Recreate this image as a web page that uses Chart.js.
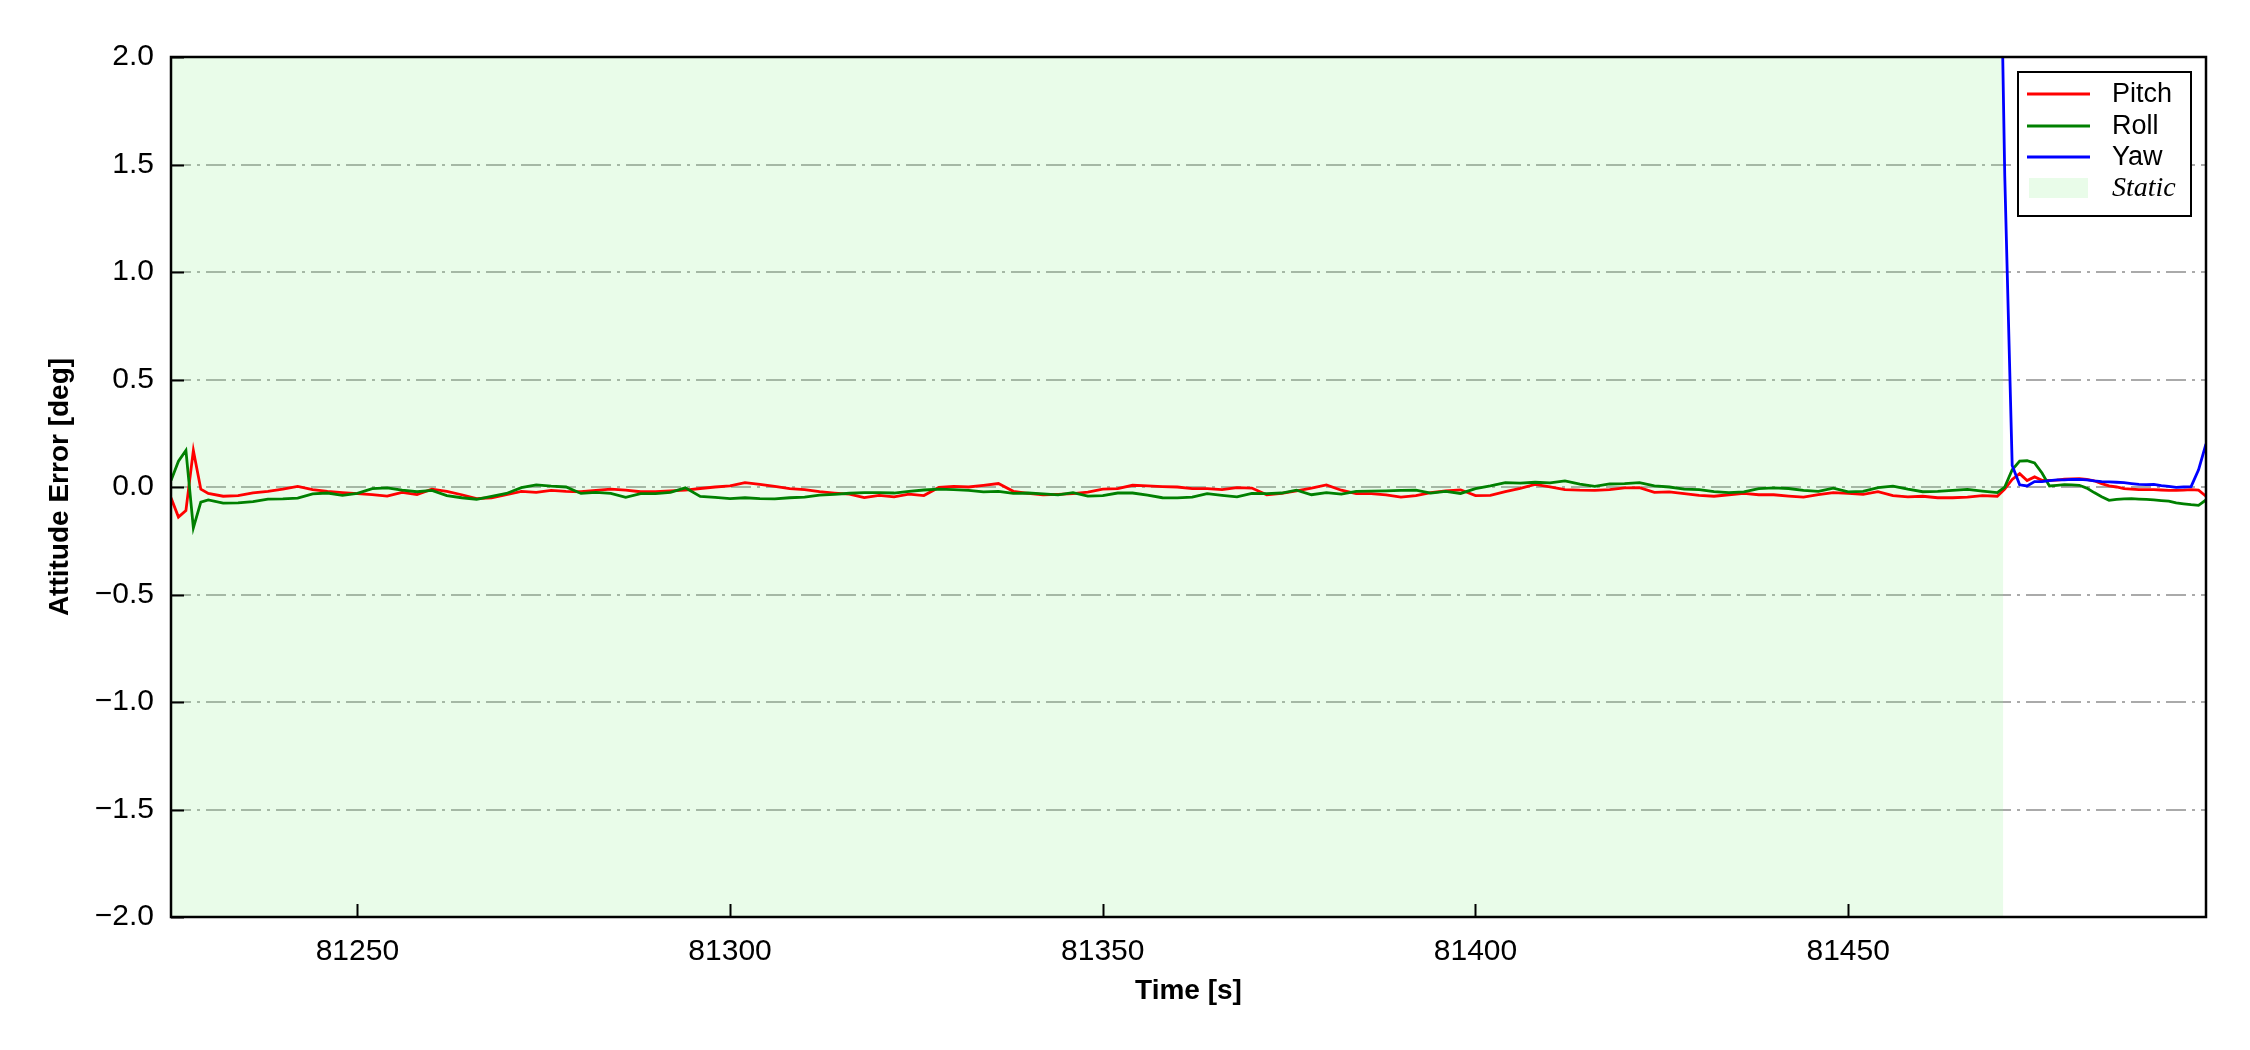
<!DOCTYPE html>
<html>
<head>
<meta charset="utf-8">
<title>Attitude Error</title>
<script src="https://cdn.jsdelivr.net/npm/chart.js"></script>
<style>
    html, body { margin: 0; padding: 0; background: #fff; }
    #wrap { position: relative; width: 2250px; height: 1050px; }
</style>
</head>
<body>
<div id="wrap"><canvas id="attitudeChart"></canvas></div>
<script>
// Time stamps [s]
const times = [
    81225, 81226, 81227, 81228, 81229, 81230,
    81232, 81234, 81236, 81238, 81240, 81242, 81244, 81246, 81248, 81250,
    81252, 81254, 81256, 81258, 81260, 81262, 81264, 81266, 81268, 81270,
    81272, 81274, 81276, 81278, 81280,
    81282, 81284, 81286, 81288, 81290, 81292, 81294, 81296, 81298, 81300,
    81302, 81304, 81306, 81308, 81310, 81312, 81314, 81316, 81318, 81320,
    81322, 81324, 81326, 81328, 81330, 81332, 81334,
    81336, 81338, 81340, 81342, 81344, 81346, 81348, 81350, 81352, 81354,
    81356, 81358, 81360, 81362, 81364, 81366, 81368, 81370, 81372, 81374,
    81376, 81378, 81380, 81382, 81384, 81386, 81388, 81390,
    81392, 81394, 81396, 81398, 81400, 81402, 81404, 81406, 81408, 81410,
    81412, 81414, 81416, 81418, 81420, 81422, 81424, 81426, 81428, 81430,
    81432, 81434, 81436, 81438, 81440, 81442, 81444,
    81446, 81448, 81450, 81452, 81454, 81456, 81458, 81460, 81462, 81464,
    81466, 81468, 81470,
    81471, 81472, 81473, 81474, 81475, 81476, 81477, 81478, 81479, 81480,
    81481, 81482, 81483, 81484, 81485, 81486, 81487, 81488, 81489, 81490,
    81491, 81492, 81493, 81494, 81495, 81496, 81497, 81498
];

// Pitch error [deg]
const pitch = [
    -0.05, -0.14, -0.11, 0.17, -0.01, -0.03,
    -0.043, -0.040, -0.027, -0.020, -0.010, 0.003, -0.012, -0.020, -0.026, -0.031,
    -0.035, -0.042, -0.025, -0.035, -0.010, -0.020, -0.036, -0.054, -0.050, -0.036,
    -0.020, -0.025, -0.016, -0.020, -0.022,
    -0.016, -0.010, -0.015, -0.022, -0.022, -0.018, -0.015, -0.007, 0.000, 0.005,
    0.020, 0.012, 0.003, -0.008, -0.012, -0.022, -0.028, -0.033, -0.049, -0.039,
    -0.046, -0.033, -0.040, -0.002, 0.003, 0.000, 0.008,
    0.016, -0.020, -0.030, -0.036, -0.034, -0.031, -0.024, -0.010, -0.008, 0.008,
    0.005, 0.002, 0.000, -0.008, -0.008, -0.012, -0.003, -0.005, -0.036, -0.030,
    -0.018, -0.005, 0.010, -0.015, -0.031, -0.031, -0.037, -0.047,
    -0.040, -0.026, -0.018, -0.013, -0.040, -0.039, -0.022, -0.006, 0.012, 0.001,
    -0.012, -0.015, -0.016, -0.012, -0.004, -0.003, -0.025, -0.023, -0.031, -0.039,
    -0.043, -0.036, -0.030, -0.036, -0.036, -0.042, -0.047,
    -0.036, -0.026, -0.030, -0.034, -0.022, -0.040, -0.046, -0.043, -0.050, -0.050,
    -0.047, -0.040, -0.043,
    -0.010, 0.035, 0.062, 0.030, 0.047, 0.031, 0.031, 0.032, 0.036, 0.038,
    0.039, 0.035, 0.029, 0.016, 0.005, 0.000, -0.008, -0.010, -0.012, -0.012,
    -0.012, -0.014, -0.016, -0.016, -0.015, -0.012, -0.015, -0.043
];

// Roll error [deg]
const roll = [
    0.03, 0.12, 0.17, -0.19, -0.07, -0.06,
    -0.075, -0.074, -0.068, -0.056, -0.055, -0.052, -0.032, -0.028, -0.039, -0.030,
    -0.008, -0.004, -0.015, -0.022, -0.016, -0.040, -0.050, -0.057, -0.044, -0.030,
    -0.003, 0.010, 0.004, 0.000, -0.030,
    -0.025, -0.030, -0.048, -0.031, -0.031, -0.025, -0.004, -0.044, -0.048, -0.054,
    -0.050, -0.054, -0.055, -0.050, -0.047, -0.038, -0.034, -0.029, -0.026, -0.026,
    -0.028, -0.020, -0.014, -0.010, -0.012, -0.016, -0.023,
    -0.020, -0.030, -0.028, -0.032, -0.037, -0.026, -0.042, -0.040, -0.028, -0.028,
    -0.038, -0.050, -0.051, -0.047, -0.031, -0.039, -0.046, -0.030, -0.031, -0.028,
    -0.015, -0.036, -0.026, -0.033, -0.020, -0.019, -0.018, -0.016,
    -0.015, -0.028, -0.020, -0.030, -0.008, 0.005, 0.020, 0.018, 0.022, 0.019,
    0.028, 0.013, 0.003, 0.014, 0.016, 0.020, 0.005, 0.000, -0.010, -0.012,
    -0.022, -0.026, -0.023, -0.008, -0.004, -0.007, -0.016,
    -0.020, -0.005, -0.023, -0.020, -0.003, 0.004, -0.010, -0.022, -0.020, -0.016,
    -0.011, -0.019, -0.026,
    0.000, 0.080, 0.120, 0.122, 0.112, 0.065, 0.005, 0.008, 0.011, 0.010,
    0.008, -0.005, -0.026, -0.045, -0.062, -0.058, -0.055, -0.054, -0.056, -0.058,
    -0.060, -0.063, -0.066, -0.074, -0.078, -0.082, -0.085, -0.060
];

// Yaw is only shown after the static phase
const yawTimes = [
    81470, 81471, 81472, 81473, 81474, 81475, 81476, 81477, 81478, 81479,
    81480, 81481, 81482, 81483, 81484, 81485, 81486, 81487, 81488, 81489,
    81490, 81491, 81492, 81493, 81494, 81495, 81496, 81497, 81498
];
const yaw = [
    3.5, 1.45, 0.10, 0.01, 0.005, 0.025, 0.025, 0.030, 0.033, 0.033,
    0.035, 0.035, 0.033, 0.028, 0.025, 0.024, 0.022, 0.020, 0.016, 0.012,
    0.011, 0.012, 0.006, 0.003, -0.002, 0.000, 0.002, 0.08, 0.20
];

// Static phase interval [s]
const staticSpan = [81225, 81470.8];

// Axis ranges and ticks
const xRange = [81225, 81498];
const xStep = 50;
const yRange = [-2, 2];
const yStep = 0.5;

const seriesNames = ['Pitch', 'Roll', 'Yaw', 'Static'];
const seriesColors = ['#ff0000', '#008000', '#0000ff', 'rgba(144, 238, 144, 0.2)'];

function toPoints(xs, ys) {
    return xs.map((x, i) => ({ x: x, y: ys[i] }));
}

// Frame, inward ticks and legend box like in the original figure
const framePlugin = {
    id: 'frame',
    afterDraw(chart) {
        const ctx = chart.ctx;
        const area = chart.chartArea;
        const xs = chart.scales.x;
        const ys = chart.scales.y;
        ctx.save();
        ctx.setLineDash([]);
        ctx.strokeStyle = '#000';
        ctx.lineWidth = 2;
        xs.ticks.forEach(t => {
            const px = Math.round(xs.getPixelForValue(t.value)) + 0.5;
            ctx.beginPath();
            ctx.moveTo(px, area.bottom);
            ctx.lineTo(px, area.bottom - 13);
            ctx.stroke();
        });
        ys.ticks.forEach(t => {
            const py = Math.round(ys.getPixelForValue(t.value)) + 0.5;
            ctx.beginPath();
            ctx.moveTo(area.left, py);
            ctx.lineTo(area.left + 13, py);
            ctx.stroke();
        });
        ctx.lineWidth = 2.5;
        ctx.strokeRect(area.left, area.top, area.right - area.left, area.bottom - area.top);

        // legend
        const bw = 173, bh = 144;
        const bx = area.right - 15 - bw;
        const by = area.top + 15;
        ctx.fillStyle = '#fff';
        ctx.fillRect(bx, by, bw, bh);
        ctx.lineWidth = 2;
        ctx.strokeRect(bx, by, bw, bh);
        const rows = [22, 54, 85, 116];
        ctx.textBaseline = 'middle';
        ctx.textAlign = 'left';
        seriesNames.forEach((name, i) => {
            const cy = by + rows[i];
            if (i < 3) {
                ctx.strokeStyle = seriesColors[i];
                ctx.lineWidth = 2.8;
                ctx.beginPath();
                ctx.moveTo(bx + 9, cy);
                ctx.lineTo(bx + 72, cy);
                ctx.stroke();
                ctx.font = '27px "Liberation Sans", Arial, sans-serif';
            } else {
                ctx.fillStyle = seriesColors[i];
                ctx.fillRect(bx + 11, cy - 10, 59, 20);
                ctx.font = 'italic 28px "Liberation Serif", "Times New Roman", serif';
            }
            ctx.fillStyle = '#000';
            ctx.fillText(name, bx + 94, cy + 1);
        });
        ctx.restore();
    }
};

document.addEventListener('DOMContentLoaded', function() {
    const ctx = document.getElementById('attitudeChart').getContext('2d');

    new Chart(ctx, {
        type: 'line',
        data: {
            datasets: [{
                label: seriesNames[0],
                data: toPoints(times, pitch),
                borderColor: seriesColors[0],
                borderWidth: 2.8,
                pointRadius: 0,
                tension: 0,
                order: 3
            }, {
                label: seriesNames[1],
                data: toPoints(times, roll),
                borderColor: seriesColors[1],
                borderWidth: 2.8,
                pointRadius: 0,
                tension: 0,
                order: 2
            }, {
                label: seriesNames[2],
                data: toPoints(yawTimes, yaw),
                borderColor: seriesColors[2],
                borderWidth: 2.8,
                pointRadius: 0,
                tension: 0,
                order: 1
            }, {
                label: seriesNames[3],
                data: toPoints(staticSpan, [yRange[1], yRange[1]]),
                borderWidth: 0,
                borderColor: 'rgba(0,0,0,0)',
                backgroundColor: seriesColors[3],
                fill: { value: yRange[0] },
                pointRadius: 0,
                order: 4
            }]
        },
        options: {
            responsive: true,
            maintainAspectRatio: false,
            animation: false,
            layout: {
                padding: { top: 57, right: 44, bottom: 0, left: 0 }
            },
            plugins: {
                legend: { display: false },
                tooltip: { enabled: false }
            },
            scales: {
                x: {
                    type: 'linear',
                    min: xRange[0],
                    max: xRange[1],
                    grid: { display: false, drawTicks: false },
                    border: { display: false },
                    ticks: {
                        stepSize: xStep,
                        includeBounds: false,
                        maxRotation: 0,
                        padding: 17,
                        color: '#000',
                        font: { family: '"Liberation Sans", Arial, sans-serif', size: 30 },
                        callback: v => String(v)
                    },
                    title: {
                        display: true,
                        text: 'Time [s]',
                        color: '#000',
                        font: { family: '"Liberation Sans", Arial, sans-serif', size: 28, weight: 'bold', lineHeight: 1.2 },
                        padding: { top: 0, bottom: 42 }
                    },
                    afterFit: scale => { scale.height = 133; }
                },
                y: {
                    min: yRange[0],
                    max: yRange[1],
                    grid: {
                        color: '#aaaaaa',
                        lineWidth: 2,
                        drawTicks: false
                    },
                    border: { display: false, dash: [20, 6, 3, 6] },
                    ticks: {
                        stepSize: yStep,
                        padding: 17,
                        color: '#000',
                        font: { family: '"Liberation Sans", Arial, sans-serif', size: 30 },
                        callback: v => (v < 0 ? '\u2212' : '') + Math.abs(v).toFixed(1)
                    },
                    title: {
                        display: true,
                        text: 'Attitude Error [deg]',
                        color: '#000',
                        font: { family: '"Liberation Sans", Arial, sans-serif', size: 28, weight: 'bold', lineHeight: 1.2 },
                        padding: { top: 43, bottom: 0 }
                    },
                    afterFit: scale => { scale.width = 171; }
                }
            }
        },
        plugins: [framePlugin]
    });
});
</script>
</body>
</html>
